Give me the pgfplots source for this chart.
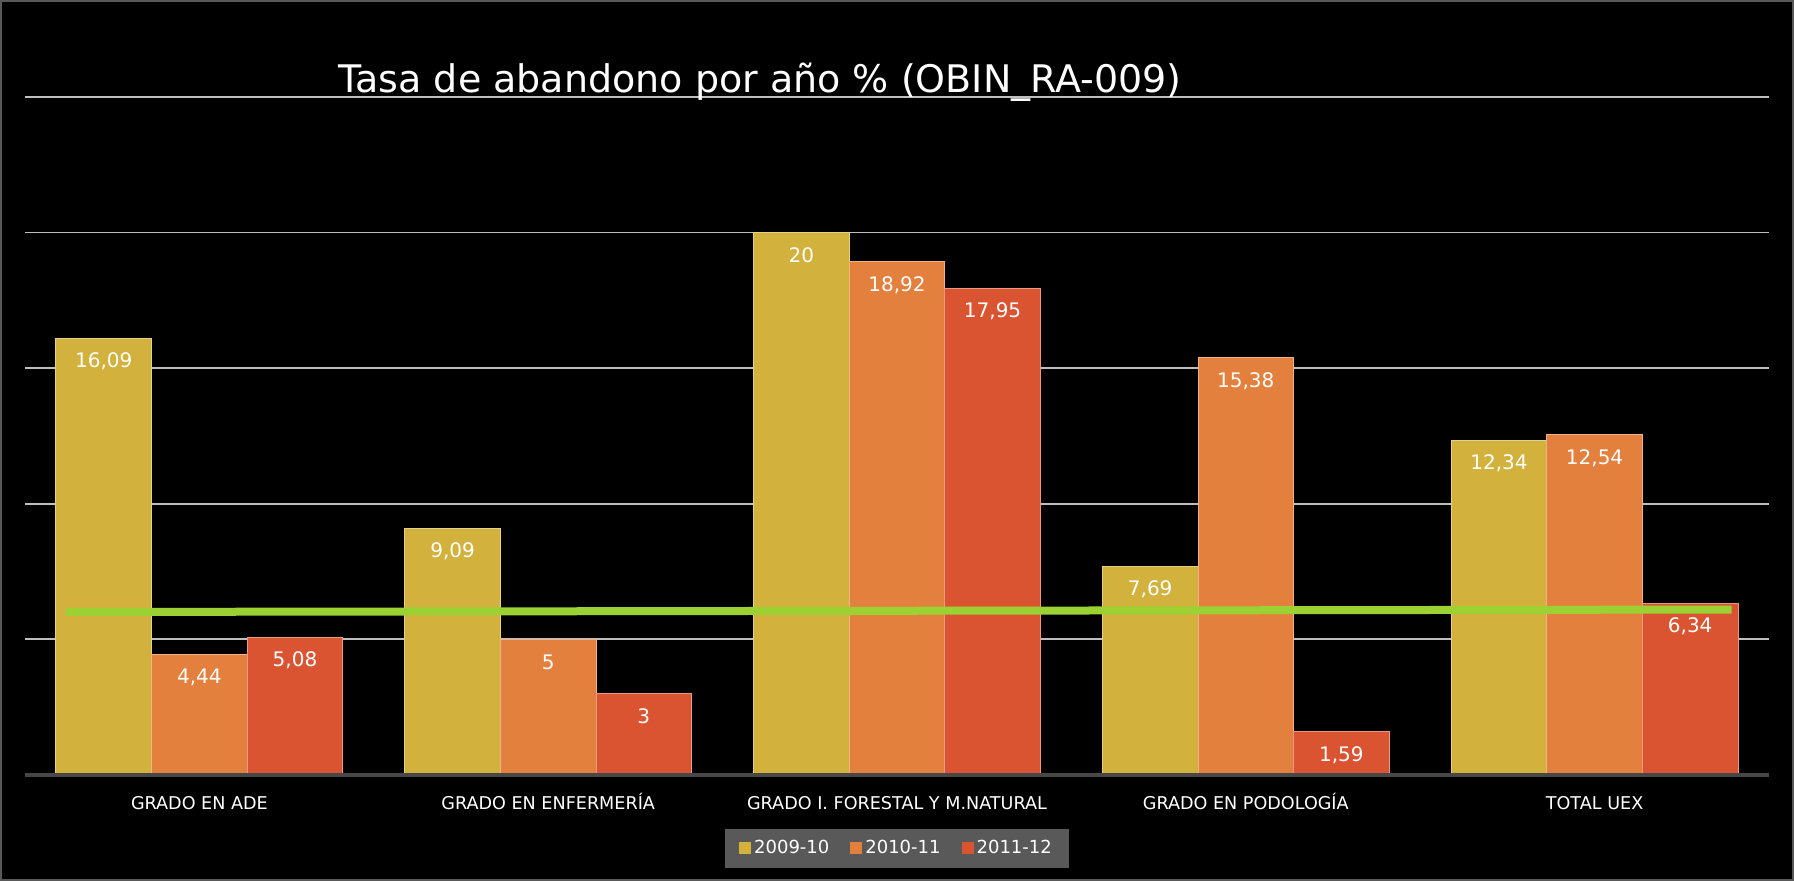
\documentclass[border=0pt]{standalone}
\usepackage{fontspec}
\setmainfont{DejaVu Sans}
\usepackage{pgfplots}
\pgfplotsset{compat=1.18}
\definecolor{cyel}{HTML}{D2B23C}
\definecolor{corg}{HTML}{E3803E}
\definecolor{cred}{HTML}{DA5432}
\definecolor{cgreen}{HTML}{9BD132}
\definecolor{leggray}{HTML}{595959}
\definecolor{gridg}{HTML}{BFBFBF}
\definecolor{axg}{HTML}{474747}
\pgfplotsset{
  sqlegend/.style={legend image code/.code={\fill[##1,draw=none] (0pt,-3pt) rectangle (6pt,3pt);}},
  barlbl/.style={nodes near coords, every node near coord/.append style={anchor=center, yshift=-11.5pt, text=white, font=\fontsize{10}{12}\selectfont}},
}
\begin{document}
\begin{tikzpicture}[x=1pt,y=1pt]
\fill[black] (0,0) rectangle (897,440.5);
\draw[gray!70!black, line width=1pt] (0.5,0.5) rectangle (896.5,440);
\begin{axis}[
  at={(12.5pt,53pt)}, anchor=south west,
  scale only axis, width=872pt, height=339pt,
  xmin=-0.5, xmax=4.5, ymin=0, ymax=25,
  ybar=0pt, bar width=47.8pt, clip=false,
  axis line style={draw=none},
  ytick={0,5,10,15,20,25}, yticklabels={},
  ymajorgrids, grid style={color=gridg, line width=0.9pt},
  major tick length=0pt,
  xtick={0,1,2,3,4},
  xticklabels={GRADO EN ADE, GRADO EN ENFERMERÍA, GRADO I. FORESTAL Y M.NATURAL, GRADO EN PODOLOGÍA, TOTAL UEX},
  x tick label style={text=white, font=\fontsize{8.8}{10}\selectfont, anchor=base, yshift=-17.3pt},
  legend style={at={(0.5,-0.1084)}, anchor=center, fill=leggray, draw=none,
    text=white, font=\fontsize{9}{10}\selectfont, inner xsep=7pt, inner ysep=3.8pt,
    /tikz/every even column/.append style={column sep=9pt},
    nodes={inner xsep=1.5pt}},
  legend columns=-1,
  point meta=explicit symbolic,
]
\addplot[fill=cyel, draw=cyel!60!white, line width=0.5pt, barlbl, sqlegend]
  coordinates {(0,16.09) [16,09] (1,9.09) [9,09] (2,20) [20] (3,7.69) [7,69] (4,12.34) [12,34]};
\addplot[fill=corg, draw=corg!60!white, line width=0.5pt, barlbl, sqlegend]
  coordinates {(0,4.44) [4,44] (1,5) [5] (2,18.92) [18,92] (3,15.38) [15,38] (4,12.54) [12,54]};
\addplot[fill=cred, draw=cred!60!white, line width=0.5pt, barlbl, sqlegend]
  coordinates {(0,5.08) [5,08] (1,3) [3] (2,17.95) [17,95] (3,1.59) [1,59] (4,6.34) [6,34]};
\addplot[sharp plot, color=cgreen, line width=4pt, forget plot]
  coordinates {(-0.3825,6.01) (4.393,6.10)};
\draw[axg, line width=2.2pt] (axis cs:-0.5,0) -- (axis cs:4.5,0);
\legend{2009-10,2010-11,2011-12}
\end{axis}
\node[text=white, font=\fontsize{19}{22}\selectfont, anchor=base] at (380,394) {Tasa de abandono por año \% (OBIN\_RA-009)};
\end{tikzpicture}
\end{document}
